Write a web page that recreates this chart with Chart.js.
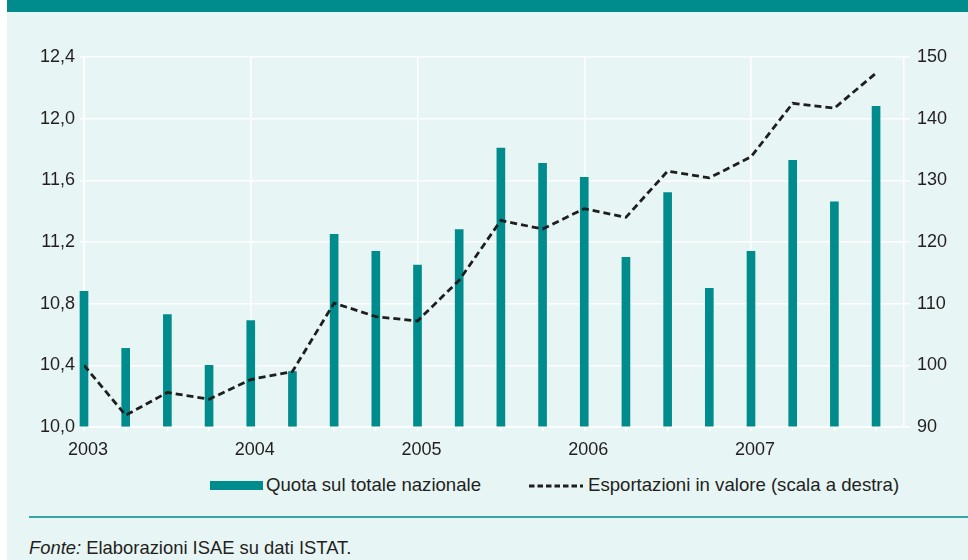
<!DOCTYPE html>
<html>
<head>
<meta charset="utf-8">
<script src="https://cdn.jsdelivr.net/npm/chart.js@4"></script>
<style>
  html, body { margin: 0; padding: 0; background: #ffffff; }
  body { width: 968px; height: 560px; position: relative; overflow: hidden; font-family: "Liberation Sans", Arial, sans-serif; color: #231f20; }
  #bg { position: absolute; left: 7px; top: 0; width: 961px; height: 560px; background: #e8f5f5; }
  #header { position: absolute; left: 7px; top: 0; width: 961px; height: 12px; background: #008c8c; }
  #wrap { position: absolute; left: 0; top: 0; width: 968px; height: 470px; }
  .leg { position: absolute; top: 474px; font-size: 18.6px; line-height: 22px; white-space: nowrap; }
  #sw1 { position: absolute; left: 210px; top: 481px; width: 53px; height: 9px; background: #008c8c; }
  #sw2 { position: absolute; left: 529px; top: 480px; }
  #sep { position: absolute; left: 29px; top: 516px; width: 939px; height: 1.5px; background: #35a5a5; }
  #note { position: absolute; left: 29px; top: 538px; font-size: 18.4px; line-height: 20px; white-space: nowrap; }
</style>
</head>
<body>
<div id="bg"></div>
<div id="header"></div>
<div id="wrap"><canvas id="myChart"></canvas></div>
<div id="sw1"></div>
<div class="leg" style="left:266px">Quota sul totale nazionale</div>
<svg id="sw2" width="54" height="12"><line x1="0" y1="6" x2="54" y2="6" stroke="#1e1e1e" stroke-width="2.8" stroke-dasharray="5.5 3"/></svg>
<div class="leg" style="left:588px">Esportazioni in valore (scala a destra)</div>
<div id="sep"></div>
<div id="note"><i>Fonte:</i> Elaborazioni ISAE su dati ISTAT.</div>
<script>
const anni = [2003, 2004, 2005, 2006, 2007];
const trimestri = [
    'I 2003', 'II 2003', 'III 2003', 'IV 2003',
    'I 2004', 'II 2004', 'III 2004', 'IV 2004',
    'I 2005', 'II 2005', 'III 2005', 'IV 2005',
    'I 2006', 'II 2006', 'III 2006', 'IV 2006',
    'I 2007', 'II 2007', 'III 2007', 'IV 2007'
];
// quota sul totale nazionale (%), scala sinistra
const quota = [10.88, 10.51, 10.73, 10.40, 10.69, 10.36, 11.25, 11.14, 11.05, 11.28,
               11.81, 11.71, 11.62, 11.10, 11.52, 10.90, 11.14, 11.73, 11.46, 12.08];
// esportazioni in valore, scala destra
const esportazioni = [100.0, 91.9, 95.6, 94.5, 97.7, 99.0, 110.1, 107.9, 107.2, 113.8,
                      123.5, 122.1, 125.4, 124.0, 131.5, 130.4, 133.8, 142.5, 141.7, 147.4];
const tickSx = [10.0, 10.4, 10.8, 11.2, 11.6, 12.0, 12.4];
const tickDx = [90, 100, 110, 120, 130, 140, 150];

const teal = '#008c8c';
const font = { family: '"Liberation Sans", Arial, sans-serif', size: 18 };

const ctx = document.getElementById('myChart');

new Chart(ctx, {
    type: 'bar',
    data: {
        datasets: [{
            type: 'line',
            label: 'Esportazioni in valore (scala a destra)',
            data: esportazioni.map((v, i) => ({ x: i, y: v })),
            yAxisID: 'y1',
            borderColor: '#1e1e1e',
            borderWidth: 2.8,
            borderDash: [7, 4],
            pointRadius: 0,
            tension: 0,
            order: 0
        }, {
            label: 'Quota sul totale nazionale',
            data: quota.map((v, i) => ({ x: i, y: v })),
            yAxisID: 'y',
            base: tickSx[0],
            backgroundColor: teal,
            borderWidth: 0,
            barThickness: 8,
            clip: false,
            order: 1
        }]
    },
    options: {
        responsive: true,
        maintainAspectRatio: false,
        animation: false,
        layout: { padding: { top: 57, left: 0, right: 0, bottom: 0 } },
        plugins: {
            legend: { display: false },
            tooltip: { enabled: false }
        },
        scales: {
            x: {
                type: 'linear',
                offset: false,
                min: 0,
                max: 19.67,
                afterFit: s => { s.height = 43; },
                ticks: {
                    stepSize: 1,
                    autoSkip: false,
                    includeBounds: false,
                    maxRotation: 0,
                    labelOffset: 4,
                    padding: 8,
                    color: '#231f20',
                    font: font,
                    callback: v => (v % 4 === 0 ? String(anni[v / 4]) : '')
                },
                grid: {
                    offset: false,
                    color: c => (c.tick && c.tick.value % 4 === 0 ? '#ffffff' : 'rgba(0,0,0,0)'),
                    tickColor: '#ffffff',
                    tickLength: 4,
                    lineWidth: 1.5
                },
                border: { display: true, color: '#ffffff', width: 1.5 }
            },
            y: {
                position: 'left',
                min: 10,
                max: 12.4,
                afterFit: s => { s.width = 84; },
                afterBuildTicks: s => { s.ticks = tickSx.map(v => ({ value: v })); },
                ticks: {
                    padding: 5,
                    color: '#231f20',
                    font: font,
                    callback: v => v.toFixed(1).replace('.', ',')
                },
                grid: { color: '#ffffff', lineWidth: 1.5, tickLength: 4 },
                border: { display: true, color: '#ffffff', width: 1.5 }
            },
            y1: {
                position: 'right',
                min: 90,
                max: 150,
                afterFit: s => { s.width = 64; },
                afterBuildTicks: s => { s.ticks = tickDx.map(v => ({ value: v })); },
                ticks: {
                    padding: 7,
                    color: '#231f20',
                    font: font
                },
                grid: { drawOnChartArea: false, color: '#ffffff', lineWidth: 1.5, tickLength: 6 },
                border: { display: true, color: '#ffffff', width: 1.5 }
            }
        }
    }
});
</script>
</body>
</html>
